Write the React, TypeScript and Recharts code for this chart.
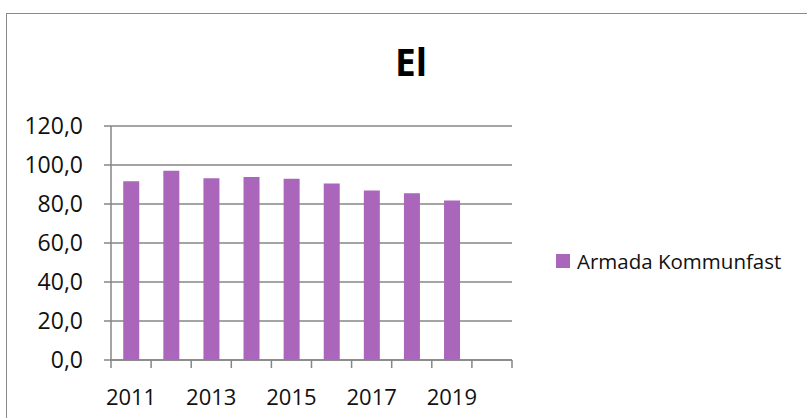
import { BarChart, Bar, XAxis, YAxis, CartesianGrid } from 'recharts';

const years = ['2011', '2012', '2013', '2014', '2015', '2016', '2017', '2018', '2019', '2020'];
const elValues = [91.7, 97.1, 93.2, 93.9, 93.0, 90.5, 86.9, 85.5, 81.8, null];
const yTicks = [0, 20, 40, 60, 80, 100, 120];
const seriesName = 'Armada Kommunfast';

const data = years.map((year, i) => ({ year, value: elValues[i] }));

const FONT = '"Open Sans", "DejaVu Sans", sans-serif';
const BAR_COLOR = '#a966ba';
const GRID = '#868686';
const BAND = 40.1;

function YearTick(props: any) {
  const { x, y, payload, index } = props;
  const last = index === years.length - 1;
  return (
    <g>
      <line x1={x - BAND / 2} y1={y - 8} x2={x - BAND / 2} y2={y} stroke={GRID} strokeWidth={1.5} />
      {last && <line x1={x + BAND / 2} y1={y - 8} x2={x + BAND / 2} y2={y} stroke={GRID} strokeWidth={1.5} />}
      {index % 2 === 0 && (
        <text x={x} y={y + 37} textAnchor="middle" fontSize={22} fontFamily={FONT} fill="#111">
          {payload.value}
        </text>
      )}
    </g>
  );
}

export default function App() {
  return (
    <div style={{ position: 'absolute', left: 0, top: 0, width: 807, height: 418, overflow: 'hidden', background: '#fff' }}>
      <div style={{ position: 'absolute', left: 6, top: 13, width: 900, height: 500, border: '1.5px solid #8a8a8a' }} />
      <div
        style={{
          position: 'absolute', left: 311, width: 200, top: 36, textAlign: 'center',
          fontFamily: FONT, fontWeight: 700, fontSize: 37, color: '#000',
        }}
      >
        El
      </div>
      <div style={{ position: 'absolute', left: 0, top: 0 }}>
        <BarChart width={807} height={418} data={data} margin={{ top: 126, right: 295, bottom: 0, left: 0 }} barCategoryGap="30.5%">
          <CartesianGrid vertical={false} stroke={GRID} strokeWidth={1.5} />
          <XAxis
            dataKey="year"
            interval={0}
            tickLine={false}
            stroke={GRID}
            strokeWidth={1.5}
            tick={<YearTick />}
            height={58}
          />
          <YAxis
            domain={[0, 120]}
            ticks={yTicks}
            interval={0}
            width={111}
            tickSize={7}
            tickMargin={21}
            stroke={GRID}
            strokeWidth={1.5}
            tick={{ fontSize: 23, fontFamily: FONT, fill: '#111' }}
            tickFormatter={(v: number) => v.toFixed(1).replace('.', ',')}
          />
          <Bar dataKey="value" name={seriesName} fill={BAR_COLOR} isAnimationActive={false} />
        </BarChart>
      </div>
      <div
        style={{
          position: 'absolute', left: 556, top: 247, display: 'flex', alignItems: 'center',
          fontFamily: FONT, fontSize: 20.5, color: '#111',
        }}
      >
        <span style={{ width: 14, height: 14, background: BAR_COLOR, marginRight: 7, display: 'inline-block' }} />
        {seriesName}
      </div>
    </div>
  );
}
